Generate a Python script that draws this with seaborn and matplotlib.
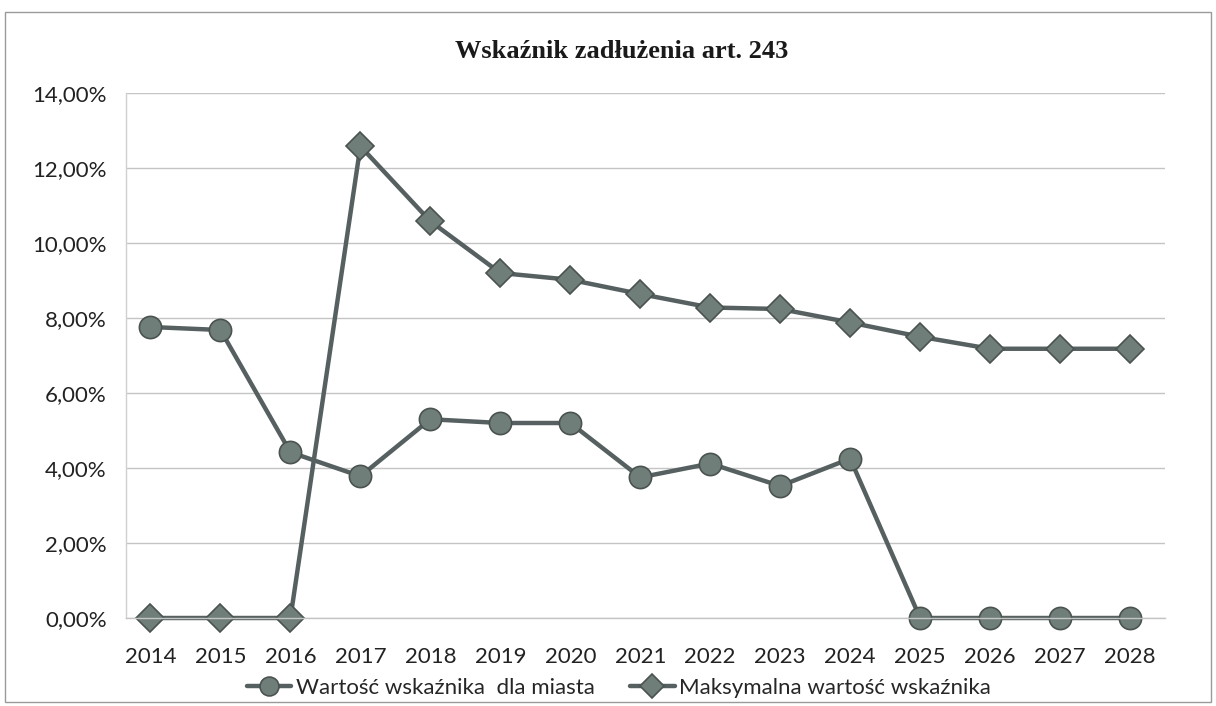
import pandas as pd
import matplotlib
matplotlib.use("Agg")
import matplotlib.pyplot as plt
import seaborn as sb
from matplotlib.ticker import FuncFormatter, MultipleLocator

years = ["2014", "2015", "2016", "2017", "2018", "2019", "2020", "2021",
         "2022", "2023", "2024", "2025", "2026", "2027", "2028"]
# values in percent
city_value = [7.76, 7.68, 4.42, 3.78, 5.30, 5.20, 5.20, 3.75,
              4.12, 3.52, 4.25, 0.0, 0.0, 0.0, 0.0]
max_value = [0.0, 0.0, 0.0, 12.58, 10.58, 9.20, 9.02, 8.64,
             8.28, 8.24, 7.88, 7.50, 7.18, 7.18, 7.18]

label_city = "Wartość wskaźnika  dla miasta"
label_max = "Maksymalna wartość wskaźnika"

df = pd.DataFrame({"rok": years, "miasto": city_value, "max": max_value})

sb.set_style("white")
plt.rcParams["font.family"] = ["Lato", "DejaVu Sans"]

line_col = "#566060"
fill_col = "#6f7e78"
edge_col = "#4a5350"

fig = plt.figure(figsize=(12.16, 7.06), dpi=100)
ax = fig.add_axes([126 / 1216, 1 - 618 / 706, (1165 - 126) / 1216, (618 - 93) / 706])

sb.lineplot(data=df, x="rok", y="miasto", ax=ax, color=line_col, linewidth=3.2,
            marker="o", markersize=16, markerfacecolor=fill_col,
            markeredgecolor=edge_col, markeredgewidth=1.2, clip_on=False,
            label=label_city, legend=False)
sb.lineplot(data=df, x="rok", y="max", ax=ax, color=line_col, linewidth=3.2,
            marker="D", markersize=14, markerfacecolor=fill_col,
            markeredgecolor=edge_col, markeredgewidth=1.2, clip_on=False,
            label=label_max, legend=False)

ax.set_ylim(0, 14)
ax.set_xlim(-0.35, 14.5)
ax.yaxis.set_major_locator(MultipleLocator(2))
ax.yaxis.set_major_formatter(FuncFormatter(lambda v, p: f"{v:.2f}%".replace(".", ",")))
ax.grid(axis="y", color="#c4c4c4", linewidth=1.0)
ax.set_axisbelow(True)
ax.set_xlabel("")
ax.set_ylabel("")

for s in ["top", "right"]:
    ax.spines[s].set_visible(False)
ax.spines["left"].set_color("#d0d0d0")
ax.spines["bottom"].set_color("#c4c4c4")
ax.spines["left"].set_linewidth(1.0)
ax.spines["bottom"].set_linewidth(1.0)

ax.tick_params(axis="x", labelsize=16, colors="#222222", length=0, pad=21)
ax.tick_params(axis="y", labelsize=16, colors="#222222", length=0, pad=14)

fig.suptitle("Wskaźnik zadłużenia art. 243", family=["Liberation Serif", "DejaVu Serif"],
             fontweight="bold", fontsize=19, color="#1a1a1a", x=0.511, y=1 - 52 / 706,
             va="center")

handles, labels = ax.get_legend_handles_labels()
fig.legend(handles, labels, loc="center", bbox_to_anchor=(0.509, 1 - 688 / 706),
           ncol=2, frameon=False, fontsize=16, handlelength=2.0,
           handletextpad=0.2, columnspacing=1.6, markerscale=0.85)

fig.patches.append(plt.Rectangle((0.004, 0.005), 0.992, 0.978, transform=fig.transFigure,
                                 fill=False, edgecolor="#9a9a9a", linewidth=1.0))

fig.savefig("out.png", dpi=100)
